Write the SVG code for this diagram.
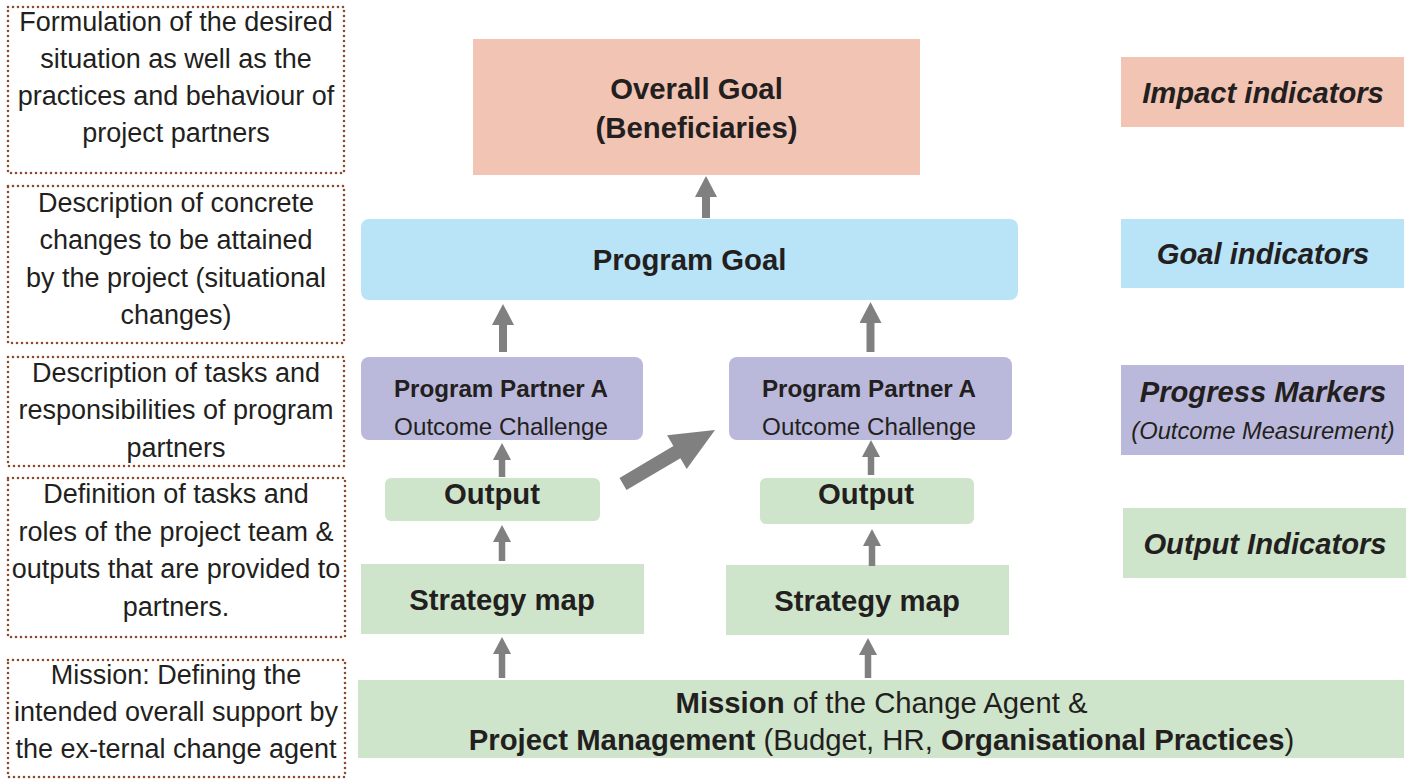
<svg xmlns="http://www.w3.org/2000/svg" width="1419" height="780" viewBox="0 0 1419 780">
<style>
  text { font-family: "Liberation Sans", Arial, Helvetica, sans-serif; fill: #231f20; text-anchor: middle; }
  .desc { font-size: 27px; }
  .main { font-size: 29.3px; font-weight: bold; }
  .ind { font-size: 29.2px; font-weight: bold; font-style: italic; }
  .sub { font-size: 23.7px; font-style: italic; }
  .pp { font-size: 24.2px; font-weight: bold; }
  .oc { font-size: 24.2px; }
  .b { font-weight: bold; }
  .n { font-weight: normal; }
  .dot { fill: none; stroke: #8b4a2b; stroke-width: 2.6; stroke-dasharray: 0 5; stroke-linecap: round; }
  .big { stroke: #808080; stroke-width: 8; fill: none; marker-end: url(#headBig); }
  .small { stroke: #808080; stroke-width: 6.5; fill: none; marker-end: url(#headSmall); }
</style>
<defs>
  <marker id="headBig" markerUnits="userSpaceOnUse" markerWidth="22" markerHeight="22" viewBox="0 0 21 22" refX="0" refY="11" orient="auto">
    <path d="M0,0 L21,11 L0,22 Z" fill="#808080"/>
  </marker>
  <marker id="headSmall" markerUnits="userSpaceOnUse" markerWidth="17" markerHeight="18" viewBox="0 0 17 18" refX="0" refY="9" orient="auto">
    <path d="M0,0 L17,9 L0,18 Z" fill="#808080"/>
  </marker>
</defs>
<rect width="1419" height="780" fill="#ffffff"/>

<!-- Left description boxes -->
<g id="desc-impact">
  <rect class="dot" x="8" y="7" width="336" height="166"/>
  <text class="desc" x="176" y="31">Formulation of the desired</text>
  <text class="desc" x="176" y="68">situation as well as the</text>
  <text class="desc" x="176" y="105">practices and behaviour of</text>
  <text class="desc" x="176" y="142">project partners</text>
</g>
<g id="desc-goal">
  <rect class="dot" x="8" y="186" width="336" height="157"/>
  <text class="desc" x="176" y="212">Description of concrete</text>
  <text class="desc" x="176" y="249">changes to be attained</text>
  <text class="desc" x="176" y="287">by the project (situational</text>
  <text class="desc" x="176" y="324">changes)</text>
</g>
<g id="desc-partners">
  <rect class="dot" x="8" y="357" width="336" height="109"/>
  <text class="desc" x="176" y="382">Description of tasks and</text>
  <text class="desc" x="176" y="419">responsibilities of program</text>
  <text class="desc" x="176" y="457">partners</text>
</g>
<g id="desc-output">
  <rect class="dot" x="8" y="478" width="337" height="159"/>
  <text class="desc" x="176" y="503">Definition of tasks and</text>
  <text class="desc" x="176" y="541">roles of the project team &amp;</text>
  <text class="desc" x="176" y="578">outputs that are provided to</text>
  <text class="desc" x="176" y="616">partners.</text>
</g>
<g id="desc-mission">
  <rect class="dot" x="8" y="660" width="337" height="117"/>
  <text class="desc" x="176" y="684">Mission: Defining the</text>
  <text class="desc" x="176" y="721">intended overall support by</text>
  <text class="desc" x="176" y="758">the ex-ternal change agent</text>
</g>

<!-- Central nodes -->
<g id="overall-goal">
  <rect x="473" y="39" width="447" height="136" fill="#f2c4b3"/>
  <text class="main" x="696.5" y="99">Overall Goal</text>
  <text class="main" x="696.5" y="138">(Beneficiaries)</text>
</g>
<g id="program-goal">
  <rect x="361" y="219" width="657" height="81" rx="8" fill="#b9e3f7"/>
  <text class="main" x="689.5" y="270">Program Goal</text>
</g>
<g id="partner-left">
  <rect x="361" y="357" width="282" height="83" rx="8" fill="#bbb9db"/>
  <text class="pp" x="501" y="397">Program Partner A</text>
  <text class="oc" x="501" y="435">Outcome Challenge</text>
</g>
<g id="partner-right">
  <rect x="729" y="357" width="283" height="83" rx="8" fill="#bbb9db"/>
  <text class="pp" x="869" y="397">Program Partner A</text>
  <text class="oc" x="869" y="435">Outcome Challenge</text>
</g>
<g id="output-left">
  <rect x="385" y="478" width="215" height="43" rx="6" fill="#cfe5cb"/>
  <text class="main" x="492" y="504">Output</text>
</g>
<g id="output-right">
  <rect x="760" y="478" width="214" height="46" rx="6" fill="#cfe5cb"/>
  <text class="main" x="866" y="504">Output</text>
</g>
<g id="strategy-left">
  <rect x="361" y="564" width="283" height="70" fill="#cfe5cb"/>
  <text class="main" x="502" y="610">Strategy map</text>
</g>
<g id="strategy-right">
  <rect x="726" y="565" width="283" height="70" fill="#cfe5cb"/>
  <text class="main" x="867" y="611">Strategy map</text>
</g>
<g id="mission">
  <rect x="358" y="680" width="1046" height="78" fill="#cfe5cb"/>
  <text class="main" x="881.5" y="713"><tspan class="b">Mission</tspan><tspan class="n"> of the Change Agent &amp;</tspan></text>
  <text class="main" x="881.5" y="750"><tspan class="b">Project Management</tspan><tspan class="n"> (Budget, HR, </tspan><tspan class="b">Organisational Practices</tspan><tspan class="n">)</tspan></text>
</g>

<!-- Right indicator column -->
<g id="impact-indicators">
  <rect x="1121" y="57" width="283" height="70" fill="#f2c4b3"/>
  <text class="ind" x="1263" y="103">Impact indicators</text>
</g>
<g id="goal-indicators">
  <rect x="1121" y="219" width="283" height="69" fill="#b9e3f7"/>
  <text class="ind" x="1263" y="264">Goal indicators</text>
</g>
<g id="progress-markers">
  <rect x="1121" y="365" width="283" height="90" fill="#bbb9db"/>
  <text class="ind" x="1263" y="402">Progress Markers</text>
  <text class="sub" x="1263" y="439">(Outcome Measurement)</text>
</g>
<g id="output-indicators">
  <rect x="1123" y="508" width="283" height="70" fill="#cfe5cb"/>
  <text class="ind" x="1265" y="554">Output Indicators</text>
</g>

<!-- Connectors -->
<g id="connectors">
  <line class="big" x1="706" y1="218" x2="706" y2="197"/>
  <line class="big" x1="503" y1="352" x2="503" y2="325"/>
  <line class="big" x1="870.5" y1="352" x2="870.5" y2="323"/>
  <line class="small" x1="502" y1="477" x2="502" y2="460"/>
  <line class="small" x1="871" y1="475" x2="871" y2="457"/>
  <line class="small" x1="502" y1="561" x2="502" y2="542"/>
  <line class="small" x1="872" y1="566" x2="872" y2="546"/>
  <line class="small" x1="502" y1="678" x2="502" y2="654"/>
  <line class="small" x1="868" y1="678" x2="868" y2="655"/>
  <polygon points="619.5,477.9 673.4,446 667.1,435.2 715,430 686.7,469 680.4,458.2 626.5,490.1" fill="#808080"/>
</g>
</svg>
